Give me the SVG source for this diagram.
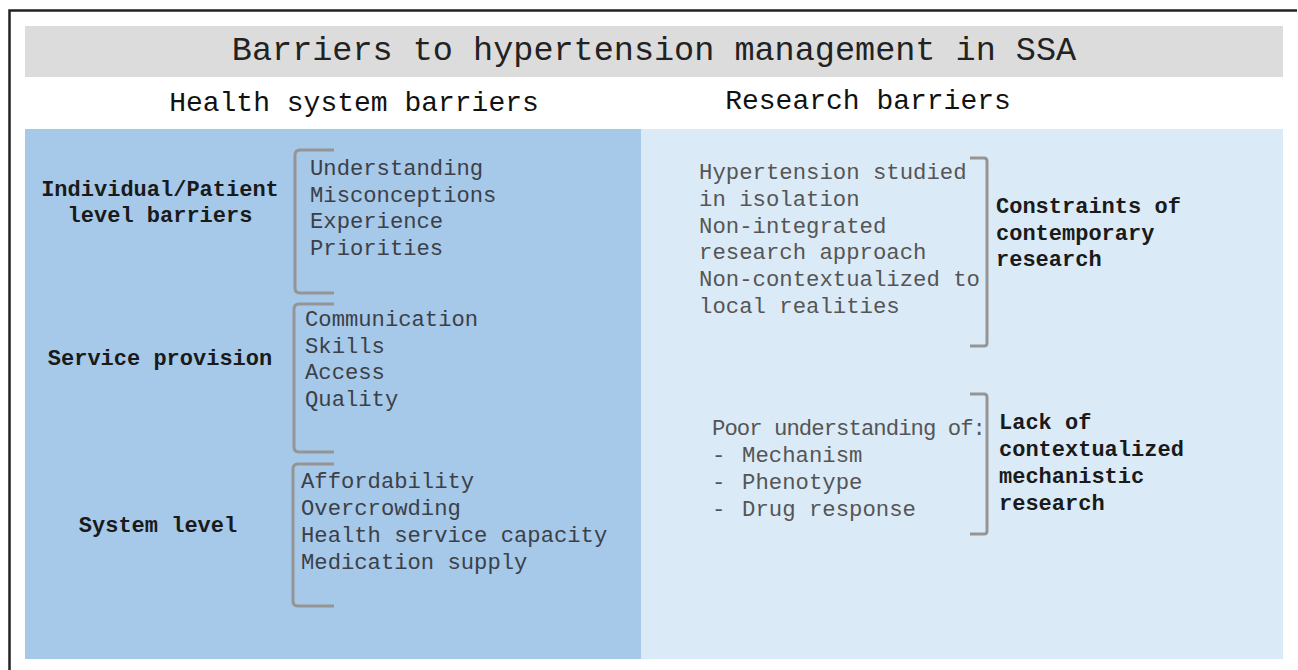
<svg xmlns="http://www.w3.org/2000/svg" width="1298" height="670" viewBox="0 0 1298 670">
<style>
.t{font-family:"Liberation Mono","Courier New",monospace;}
.title{font-size:33.5px;fill:#222;}
.head{font-size:28px;fill:#111;}
.lab{font-size:22px;font-weight:bold;fill:#1a1a1a;}
.item{font-size:22.2px;fill:#3b4048;}
.ritem{font-size:22.3px;fill:#555;}
.br{fill:none;stroke:#959595;stroke-width:3;stroke-linejoin:round;}
</style>
<rect x="0" y="0" width="1298" height="670" fill="#fff"/>
<path d="M9.5 670 V10.5 H1297" fill="none" stroke="#222" stroke-width="2.5"/>
<g id="title">
<rect x="25" y="26" width="1258" height="51" fill="#dcdcdd"/>
<text class="t title" x="654" y="60" text-anchor="middle">Barriers to hypertension management in SSA</text>
</g>
<g id="headers">
<text class="t head" x="354" y="111" text-anchor="middle">Health system barriers</text>
<text class="t head" x="868" y="109" text-anchor="middle">Research barriers</text>
</g>
<rect x="25" y="129" width="616" height="530" fill="#a6c8e9"/>
<rect x="641" y="129" width="642" height="530" fill="#dbeaf7"/>
<g id="individual">
<text class="t lab" x="160" y="196" text-anchor="middle">Individual/Patient</text>
<text class="t lab" x="160" y="222" text-anchor="middle">level barriers</text>
<path class="br" d="M334 150 H300 Q295 150 295 155 V288 Q295 293 300 293 H334"/>
<text class="t item" x="310" y="175">Understanding</text>
<text class="t item" x="310" y="202">Misconceptions</text>
<text class="t item" x="310" y="228">Experience</text>
<text class="t item" x="310" y="255">Priorities</text>
</g>
<g id="service">
<text class="t lab" x="160" y="365" text-anchor="middle">Service provision</text>
<path class="br" d="M334 304 H299 Q294 304 294 309 V447 Q294 452 299 452 H334"/>
<text class="t item" x="305" y="326">Communication</text>
<text class="t item" x="305" y="353">Skills</text>
<text class="t item" x="305" y="379">Access</text>
<text class="t item" x="305" y="406">Quality</text>
</g>
<g id="system">
<text class="t lab" x="158" y="532" text-anchor="middle">System level</text>
<path class="br" d="M334 464 H298 Q293 464 293 469 V601 Q293 606 298 606 H334"/>
<text class="t item" x="301" y="488">Affordability</text>
<text class="t item" x="301" y="515">Overcrowding</text>
<text class="t item" x="301" y="542">Health service capacity</text>
<text class="t item" x="301" y="569">Medication supply</text>
</g>
<g id="constraints">
<text class="t ritem" x="699" y="179">Hypertension studied</text>
<text class="t ritem" x="699" y="206">in isolation</text>
<text class="t ritem" x="699" y="233">Non-integrated</text>
<text class="t ritem" x="699" y="259">research approach</text>
<text class="t ritem" x="699" y="286">Non-contextualized to</text>
<text class="t ritem" x="699" y="313">local realities</text>
<path class="br" d="M970 158 H984 Q987 158 987 161 V343 Q987 346 984 346 H970"/>
<text class="t lab" x="996" y="213">Constraints of</text>
<text class="t lab" x="996" y="240">contemporary</text>
<text class="t lab" x="996" y="266">research</text>
</g>
<g id="mechanistic">
<text class="t ritem" x="712" y="435" textLength="274" lengthAdjust="spacing">Poor understanding of:</text>
<text class="t ritem" x="712" y="462">-<tspan x="742">Mechanism</tspan></text>
<text class="t ritem" x="712" y="489">-<tspan x="742">Phenotype</tspan></text>
<text class="t ritem" x="712" y="516">-<tspan x="742">Drug response</tspan></text>
<path class="br" d="M970 394 H984 Q987 394 987 397 V531 Q987 534 984 534 H970"/>
<text class="t lab" x="999" y="429">Lack of</text>
<text class="t lab" x="999" y="456">contextualized</text>
<text class="t lab" x="999" y="483">mechanistic</text>
<text class="t lab" x="999" y="510">research</text>
</g>
<g id="connectors"></g>
</svg>
